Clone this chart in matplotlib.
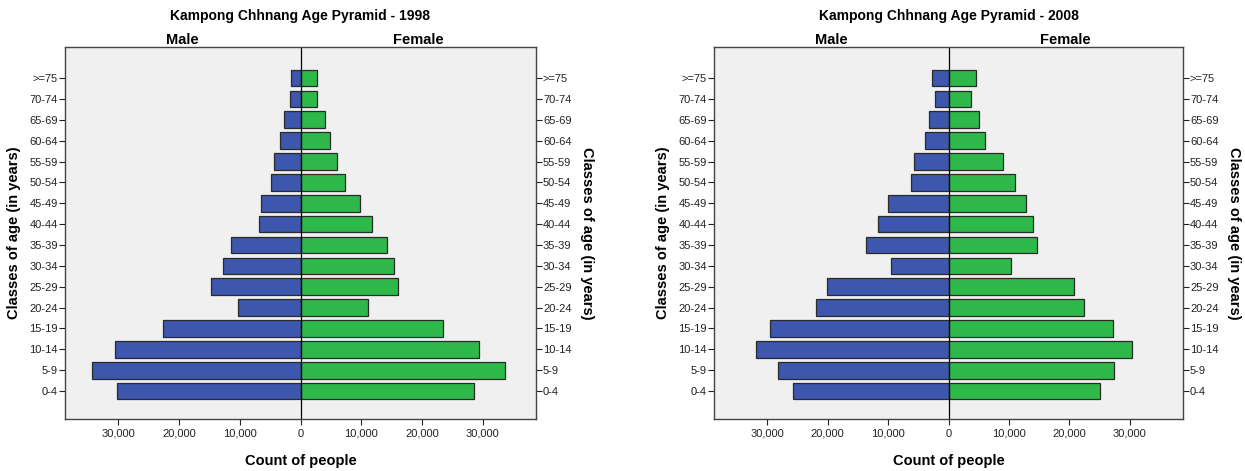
import numpy as np
import matplotlib.pyplot as plt
from matplotlib.ticker import FuncFormatter

# age classes, bottom to top
ages = ['0-4', '5-9', '10-14', '15-19', '20-24', '25-29', '30-34', '35-39',
        '40-44', '45-49', '50-54', '55-59', '60-64', '65-69', '70-74', '>=75']

# counts of people
male_1998 = [30200, 34300, 30500, 22700, 10300, 14700, 12700, 11400,
             6900, 6500, 4900, 4400, 3300, 2800, 1800, 1600]
female_1998 = [28600, 33700, 29400, 23400, 11200, 16100, 15400, 14200,
               11700, 9800, 7300, 6000, 4800, 4100, 2700, 2700]
male_2008 = [25800, 28200, 31900, 29500, 22000, 20100, 9500, 13600,
             11700, 10000, 6200, 5700, 3900, 3200, 2200, 2700]
female_2008 = [25100, 27400, 30400, 27300, 22400, 20700, 10300, 14700,
               14000, 12900, 11000, 9000, 6100, 5000, 3700, 4600]

xticks = [-30000, -20000, -10000, 0, 10000, 20000, 30000]

blue = '#3d56ae'
green = '#2eb84a'
W, H = 1245, 471

plt.rcParams['font.family'] = ['Liberation Sans', 'DejaVu Sans']
fig = plt.figure(figsize=(W / 100, H / 100), dpi=100)
fig.patch.set_facecolor('white')


def pyramid(left_px, right_px, male, female, year):
    x0 = left_px / W
    w = (right_px - left_px) / W
    ax = fig.add_axes([x0, (H - 419) / H, w, (419 - 47) / H])
    ax.set_facecolor('#f0f0f0')
    y = np.arange(len(ages))
    ax.barh(y, -np.array(male), height=0.8, color=blue, edgecolor='#2a2a2a', linewidth=0.9)
    ax.barh(y, female, height=0.8, color=green, edgecolor='#2a2a2a', linewidth=0.9)
    ax.axvline(0, color='black', linewidth=0.9)
    ax.set_xlim(-38800, 38800)
    ax.set_ylim(-1.34, 16.49)
    ax.set_xticks(xticks)
    ax.xaxis.set_major_formatter(FuncFormatter(lambda v, p: '{:,}'.format(int(abs(v)))))
    ax.set_yticks(y)
    ax.set_yticklabels(ages)
    ax.tick_params(axis='y', which='both', left=True, right=True, labelleft=True,
                   labelright=True, length=4, width=0.8, labelsize=8, colors='#222222', pad=1)
    ax.tick_params(axis='x', length=4, width=0.8, labelsize=8, colors='#222222', pad=3)
    for s in ax.spines.values():
        s.set_color('#444444')
        s.set_linewidth(1.0)
    ax.set_xlabel('Count of people', fontsize=10.5, fontweight='bold', labelpad=11)
    ax.set_ylabel('Classes of age (in years)', fontsize=10.5, fontweight='bold', labelpad=6)
    c = (left_px + right_px) / 2
    fig.text(c / W, 1 - 16 / H, 'Kampong Chhnang Age Pyramid - ' + year,
             ha='center', va='center', fontsize=10, fontweight='bold')
    fig.text((left_px + c) / 2 / W, 1 - 40 / H, 'Male', ha='center', va='center',
             fontsize=10.5, fontweight='bold')
    fig.text((right_px + c) / 2 / W, 1 - 40 / H, 'Female', ha='center', va='center',
             fontsize=10.5, fontweight='bold')
    fig.text((right_px + 51) / W, 1 - 233 / H, 'Classes of age (in years)', rotation=270,
             ha='center', va='center', fontsize=10.5, fontweight='bold')
    return ax


pyramid(65, 536, male_1998, female_1998, '1998')
pyramid(714, 1183, male_2008, female_2008, '2008')

fig.savefig('out.png', dpi=100)
